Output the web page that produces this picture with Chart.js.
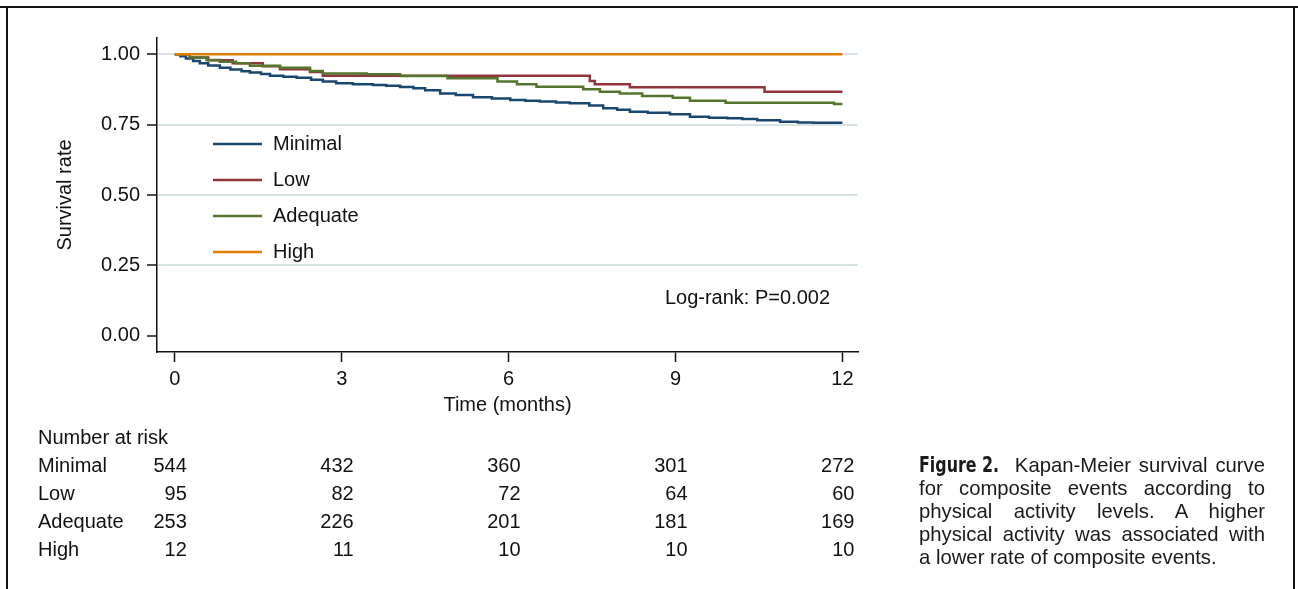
<!DOCTYPE html>
<html>
<head>
<meta charset="utf-8">
<script src="https://cdn.jsdelivr.net/npm/chart.js@4.4.1/dist/chart.umd.min.js"></script>
<style>
  body { margin: 0; background: #fff; width: 1298px; height: 589px; overflow: hidden; position: relative;
         font-family: "Liberation Sans", Arial, sans-serif; }
  #wrap { position: absolute; left: 0; top: 0; width: 1298px; height: 589px; }
  .frame { position: absolute; background: #111; }
  #caption { position: absolute; left: 919px; top: 454px; width: 346px; font-size: 20.3px; line-height: 23px;
             color: #1a1a1a; text-align: justify; }
  #caption b { display: inline-block; width: 88px; white-space: nowrap; }
  #caption b span { display: inline-block; transform: scaleX(0.84); transform-origin: left center;
                    font-family: "Liberation Sans Narrow", "DejaVu Sans Condensed", sans-serif; font-weight: bold; font-size: 21px; }
</style>
</head>
<body>
<div class="frame" style="left:0;top:6px;width:1298px;height:2px"></div>
<div class="frame" style="left:6px;top:6px;width:2px;height:583px"></div>
<div class="frame" style="left:1293px;top:8px;width:2px;height:581px"></div>
<div id="wrap"><canvas id="kmChart" width="1298" height="589"></canvas></div>
<div id="caption"><b><span>Figure 2.</span></b> Kapan-Meier survival curve for composite events according to physical activity levels. A higher physical activity was associated with a&nbsp;lower rate of composite events.</div>
<script>
// categories / tick labels
const groups = ["Minimal", "Low", "Adequate", "High"];
const months = [0, 3, 6, 9, 12];
const survTicks = [0, 0.25, 0.5, 0.75, 1];
const colors = ["#1a476f", "#90353b", "#55752f", "#e37e00"];

// Kaplan-Meier step points (time in months, survival)
const minimalT = [0, 0.1, 0.2, 0.33, 0.45, 0.6, 0.81, 1.0, 1.2, 1.35, 1.55, 1.71, 1.95, 2.19, 2.45, 2.66, 2.9, 3.2, 3.56, 3.8,
    4.05, 4.29, 4.5, 4.77, 5.05, 5.36, 5.7, 6.03, 6.3, 6.56, 6.85, 7.1, 7.45, 7.7, 7.95, 8.18, 8.5, 8.9, 9.26, 9.6,
    9.93, 10.2, 10.47, 10.88, 11.2, 11.47, 12];
const minimalS = [1, 0.993, 0.985, 0.976, 0.968, 0.96, 0.952, 0.946, 0.94, 0.935, 0.93, 0.924, 0.92, 0.917, 0.91, 0.903, 0.897, 0.894, 0.891, 0.888,
    0.884, 0.879, 0.872, 0.861, 0.855, 0.847, 0.843, 0.838, 0.835, 0.832, 0.829, 0.826, 0.818, 0.808, 0.803, 0.796, 0.792, 0.787, 0.778, 0.775,
    0.773, 0.77, 0.766, 0.76, 0.758, 0.757, 0.757];
const lowT = [0, 0.27, 0.6, 1.04, 1.58, 1.89, 2.43, 2.66, 7.46, 7.55, 8.18, 10.6, 12];
const lowS = [1, 0.989, 0.979, 0.968, 0.958, 0.947, 0.937, 0.924, 0.905, 0.894, 0.883, 0.867, 0.867];
const adequateT = [0, 0.27, 0.57, 0.81, 1.1, 1.35, 1.89, 2.43, 2.66, 3.45, 4.05, 4.9, 5.8, 6.15, 6.5, 7.34, 7.64, 8.0, 8.4, 8.95, 9.26, 9.9, 11.85, 12];
const adequateS = [1, 0.989, 0.98, 0.974, 0.968, 0.959, 0.952, 0.941, 0.932, 0.929, 0.923, 0.915, 0.903, 0.894, 0.885, 0.876, 0.867, 0.861, 0.852, 0.846, 0.835, 0.828, 0.823, 0.823];
const highT = [0, 12];
const highS = [1, 1];

// number at risk at months 0,3,6,9,12
const riskMinimal = [544, 432, 360, 301, 272];
const riskLow = [95, 82, 72, 64, 60];
const riskAdequate = [253, 226, 201, 181, 169];
const riskHigh = [12, 11, 10, 10, 10];
const atRisk = [riskMinimal, riskLow, riskAdequate, riskHigh];
const logRank = "Log-rank: P=0.002";

const series = [[minimalT, minimalS], [lowT, lowS], [adequateT, adequateS], [highT, highS]];
const FONT = '"Liberation Sans", Arial, sans-serif';
const INK = "#111";

const extras = {
    id: "extras",
    afterDraw(chart) {
        const { ctx, chartArea, scales: { x } } = chart;
        ctx.save();
        ctx.font = "20px " + FONT;
        ctx.fillStyle = INK;
        ctx.textBaseline = "middle";
        // legend inside the plot
        chart.data.datasets.forEach((ds, i) => {
            const y = chartArea.top + 106 + i * 36;
            ctx.strokeStyle = ds.borderColor;
            ctx.lineWidth = 2.5;
            ctx.beginPath();
            ctx.moveTo(chartArea.left + 56, y);
            ctx.lineTo(chartArea.left + 105, y);
            ctx.stroke();
            ctx.textAlign = "left";
            ctx.fillText(ds.label, chartArea.left + 116, y);
        });
        ctx.textAlign = "right";
        ctx.fillText(logRank, chartArea.right - 28, chartArea.top + 260);

        // number at risk table
        ctx.textAlign = "left";
        ctx.fillText("Number at risk", 38, 438);
        groups.forEach((g, i) => {
            const y = 466 + i * 28.3;
            ctx.textAlign = "left";
            ctx.fillText(g, 38, y);
            ctx.textAlign = "right";
            atRisk[i].forEach((n, j) => ctx.fillText(String(n), x.getPixelForValue(months[j]) + 12, y));
        });
        ctx.restore();
    }
};

const ctx = document.querySelector("#kmChart").getContext("2d");
const kmChart = new Chart(ctx, {
    type: "line",
    data: {
        datasets: groups.map((g, i) => ({
            label: g,
            data: series[i][0].map((t, k) => ({ x: t, y: series[i][1][k] })),
            borderColor: colors[i],
            borderWidth: 2.5,
            stepped: true,
            pointRadius: 0,
            fill: false,
            order: groups.length - i,
        })),
    },
    options: {
        responsive: false,
        animation: false,
        devicePixelRatio: 1,
        layout: { padding: { left: 0, top: 38, right: 440, bottom: 167 } },
        plugins: {
            legend: { display: false },
            tooltip: { enabled: false },
        },
        scales: {
            x: {
                type: "linear",
                min: -0.32,
                max: 12.28,
                afterBuildTicks: s => { s.ticks = months.map(v => ({ value: v })); },
                afterFit: s => { s.height = 70; },
                grid: { drawOnChartArea: false, tickLength: 10, tickColor: INK, tickWidth: 1.5 },
                border: { color: INK, width: 1.5 },
                ticks: { color: INK, font: { family: FONT, size: 20 }, padding: 5 },
                title: { display: true, text: "Time (months)", color: INK, font: { family: FONT, size: 20 },
                         padding: { top: 0, bottom: 5 } },
            },
            y: {
                min: -0.058,
                max: 1.058,
                afterBuildTicks: s => { s.ticks = survTicks.map(v => ({ value: v })); },
                afterFit: s => { s.width = 157; },
                grid: {
                    color: c => (c.tick && c.tick.value === 0 ? "rgba(0,0,0,0)" : "#d8e3e6"),
                    lineWidth: 2,
                    tickLength: 10, tickColor: INK, tickWidth: 1.5,
                },
                border: { color: INK, width: 1.5 },
                ticks: { color: INK, font: { family: FONT, size: 20 }, padding: 7,
                         callback: v => v.toFixed(2) },
                title: { display: true, text: "Survival rate", color: INK, font: { family: FONT, size: 20 },
                         padding: { top: 53, bottom: 0 } },
            },
        },
    },
    plugins: [extras],
});
</script>
</body>
</html>
